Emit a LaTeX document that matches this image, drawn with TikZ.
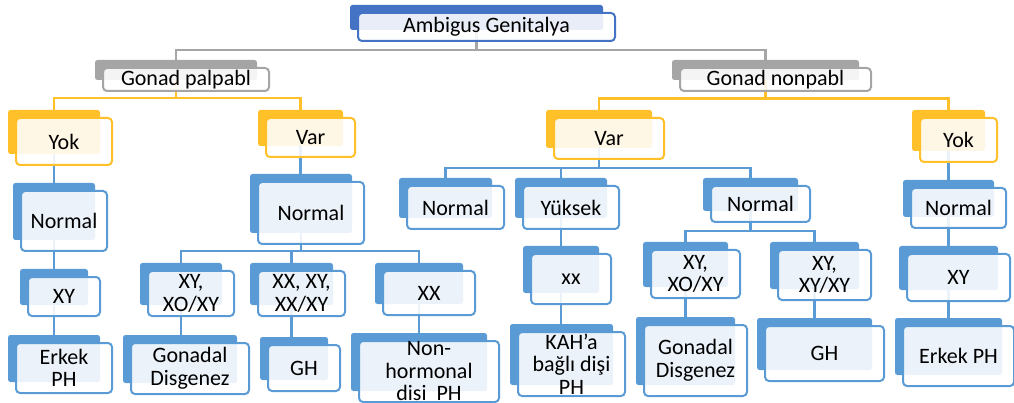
\documentclass[tikz,border=0pt]{standalone}
\usepackage{fontspec}
\setmainfont{Carlito}
\usetikzlibrary{fit,calc}

\pgfdeclarelayer{links}
\pgfdeclarelayer{shadow}
\pgfsetlayers{links,shadow,main}

\definecolor{cBlue}{HTML}{5B9BD5}
\definecolor{cTop}{HTML}{4472C4}
\definecolor{cGold}{HTML}{FFC02A}
\definecolor{cGray}{HTML}{A5A5A5}

\tikzset{
  backbox/.style={fill=#1, draw=none, rounded corners=2.5pt, inner sep=0pt},
  frontbox/.style={draw=#1, line width=2pt, rounded corners=4pt, fill=white,
    fill opacity=0.88, inner sep=0pt},
  boxtext/.style={inner sep=0pt, align=center,
    font=\fontsize{22}{22.5}\selectfont},
  link/.style={draw=#1, line width=2.2pt},
}

% #1 name, #2-#5 corners of the solid back plate, #6 colour, #7 text
\newcommand\gbox[7]{%
  \begin{pgfonlayer}{shadow}
    \node[backbox=#6, fit={(#2,#3) (#4,#5)}] (#1-b) {};
  \end{pgfonlayer}
  \node[frontbox=#6, fit={({#2+8},{#3+8}) ({#4+12},{#5+11})}] (#1) {};
  \node[boxtext] (#1-t) at (#1.center) {#7};
}

\begin{document}
\begin{tikzpicture}[x=1pt,y=-1pt]
\useasboundingbox (0,0) rectangle (1014,403);

% root and first level
\gbox{amb}{350}{5}{603}{30}{cTop}{Ambigus Genitalya}
\gbox{gp}{95}{60}{257}{80}{cGray}{Gonad palpabl}
\gbox{gn}{672}{60}{859}{80}{cGray}{Gonad nonpabl}

% second level
\gbox{yokL}{8}{110}{100}{154}{cGold}{Yok}
\gbox{varL}{258}{110}{343}{146}{cGold}{Var}
\gbox{varR}{546}{110}{652}{148}{cGold}{Var}
\gbox{yokR}{912}{110}{985}{151}{cGold}{Yok}

% palpable, absent
\gbox{normL}{13}{183}{95}{240}{cBlue}{Normal}
\gbox{xyL}{20}{269}{88}{305}{cBlue}{XY}
\gbox{erkL}{8}{335}{100}{382}{cBlue}{Erkek\\PH}

% palpable, present
\gbox{normM}{250}{174}{352}{233}{cBlue}{Normal}
\gbox{xyxoL}{140}{263}{222}{305}{cBlue}{XY,\\XO/XY}
\gbox{xxxy}{250}{263}{333}{305}{cBlue}{XX, XY,\\XX/XY}
\gbox{xxL}{375}{263}{463}{304}{cBlue}{XX}
\gbox{gdL}{123}{335}{237}{383}{cBlue}{Gonadal\\Disgenez}
\gbox{ghL}{260}{337}{328}{380}{cBlue}{GH}
\gbox{nonh}{351}{333}{487}{391}{cBlue}{Non-\\hormonal\\disi\ \ PH}

% nonpalpable, present
\gbox{normR1}{399}{178}{492}{218}{cBlue}{Normal}
\gbox{yuk}{515}{178}{607}{218}{cBlue}{Yüksek}
\gbox{normR2}{703}{178}{798}{211}{cBlue}{Normal}
\gbox{xxs}{523}{246}{599}{293}{cBlue}{xx}
\gbox{kah}{510}{324}{613}{385}{cBlue}{KAH’a\\bağlı dişi\\PH}
\gbox{xyxoR}{643}{242}{728}{287}{cBlue}{XY,\\XO/XY}
\gbox{xyxy}{770}{242}{859}{289}{cBlue}{XY,\\XY/XY}
\gbox{gdR}{636}{317}{735}{385}{cBlue}{Gonadal\\Disgenez}
\gbox{ghR}{757}{318}{872}{370}{cBlue}{GH}

% nonpalpable, absent
\gbox{normR3}{903}{180}{994}{217}{cBlue}{Normal}
\gbox{xyR}{899}{246}{998}{290}{cBlue}{XY}
\gbox{erkR}{895}{318}{1002}{375}{cBlue}{Erkek PH}

\begin{pgfonlayer}{links}
  % root bus
  \draw[link=cGray] (amb-b.center) -- (amb-b.center |- 0,50) -| (gp-b.center);
  \draw[link=cGray] (amb-b.center |- 0,50) -| (gn-b.center);
  % palpable bus
  \draw[link=cGold] (gp-b.center) -- (gp-b.center |- 0,98) -| (yokL-b.center);
  \draw[link=cGold] (gp-b.center |- 0,98) -| (varL-b.center);
  % nonpalpable bus
  \draw[link=cGold] (gn-b.center) -- (gn-b.center |- 0,98.5) -| (varR-b.center);
  \draw[link=cGold] (gn-b.center |- 0,98.5) -| (yokR-b.center);

  % left column
  \draw[link=cBlue] (yokL-b.center) -- (yokL-b.center |- erkL-b.center);
  % present gonad, palpable
  \draw[link=cBlue] (varL-b.center) -- (varL-b.center |- normM-b.center);
  \draw[link=cBlue] (normM-b.center) -- (normM-b.center |- 0,251) -| (xyxoL-b.center);
  \draw[link=cBlue] (normM-b.center |- 0,251) -| (xxxy-b.center);
  \draw[link=cBlue] (normM-b.center |- 0,251) -| (xxL-b.center);
  \draw[link=cBlue] (xyxoL-b.center) -- (xyxoL-b.center |- gdL-b.center);
  \draw[link=cBlue] (xxxy-b.center) -- (xxxy-b.center |- ghL-b.center);
  \draw[link=cBlue] (xxL-b.center) -- (xxL-b.center |- nonh-b.center);

  % present gonad, nonpalpable
  \draw[link=cBlue] (varR-b.center) -- (varR-b.center |- 0,168) -| (normR1-b.center);
  \draw[link=cBlue] (varR-b.center |- 0,168) -| (yuk-b.center);
  \draw[link=cBlue] (varR-b.center |- 0,168) -| (normR2-b.center);
  \draw[link=cBlue] (yuk-b.center) -- (yuk-b.center |- kah-b.center);
  \draw[link=cBlue] (normR2-b.center) -- (normR2-b.center |- 0,231) -| (xyxoR-b.center);
  \draw[link=cBlue] (normR2-b.center |- 0,231) -| (xyxy-b.center);
  \draw[link=cBlue] (xyxoR-b.center) -- (xyxoR-b.center |- gdR-b.center);
  \draw[link=cBlue] (xyxy-b.center) -- (xyxy-b.center |- ghR-b.center);

  % right column
  \draw[link=cBlue] (yokR-b.center) -- (yokR-b.center |- erkR-b.center);
\end{pgfonlayer}
\end{tikzpicture}
\end{document}
